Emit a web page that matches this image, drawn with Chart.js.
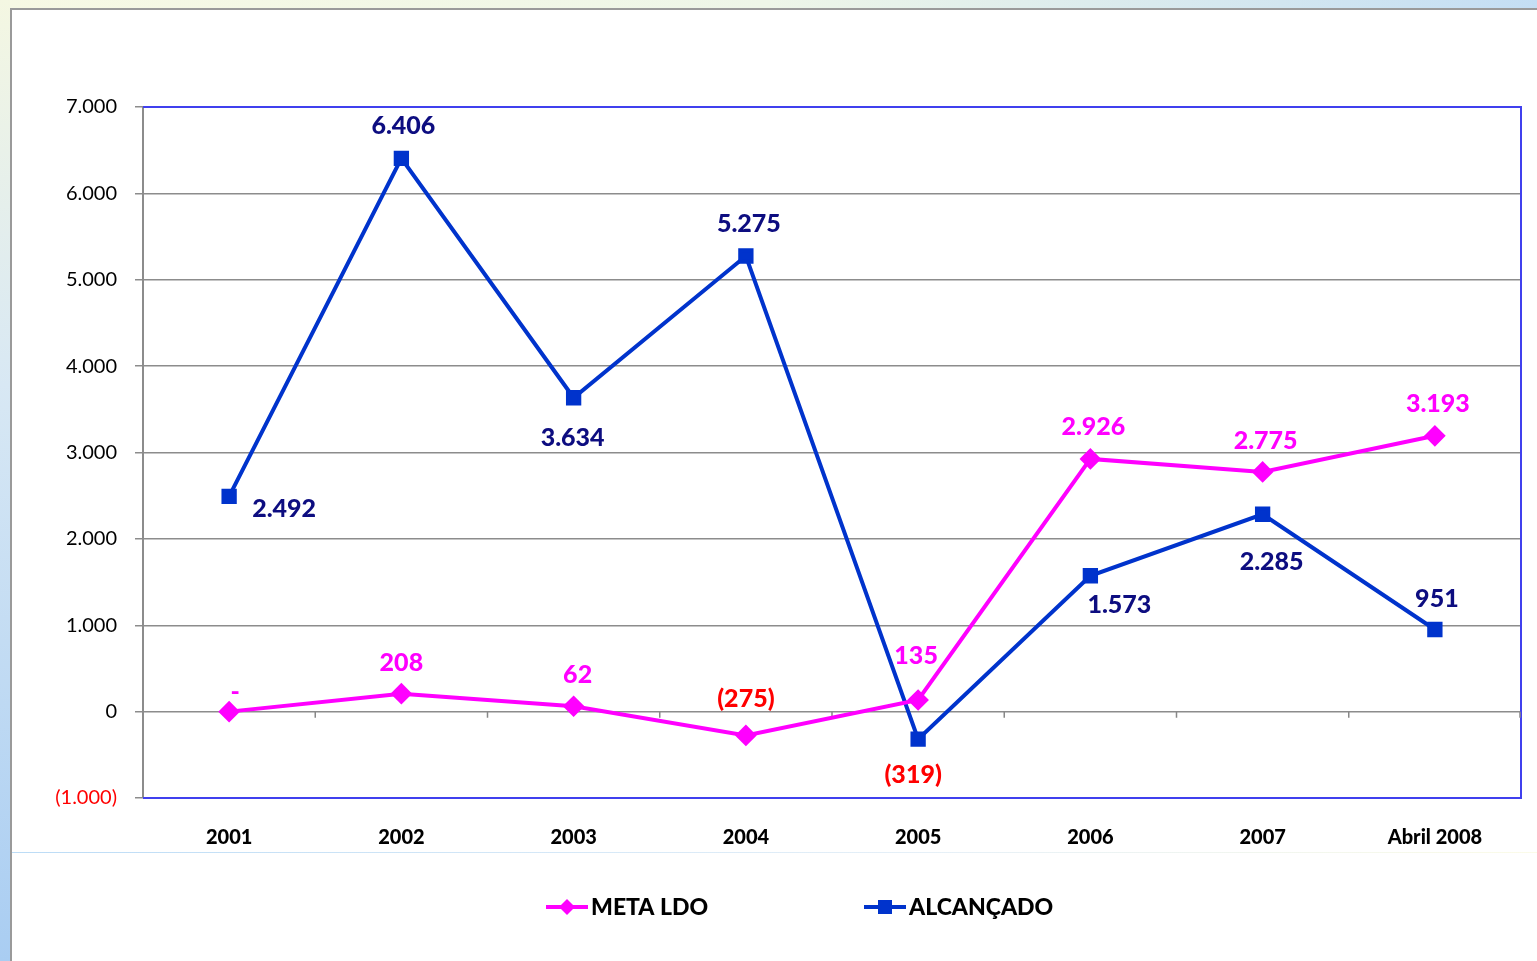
<!DOCTYPE html>
<html>
<head>
<meta charset="utf-8">
<script src="https://cdn.jsdelivr.net/npm/chart.js@4.4.1/dist/chart.umd.min.js"></script>
<style>
  html, body { margin: 0; padding: 0; width: 1537px; height: 961px; overflow: hidden; }
  body { background: linear-gradient(90deg, #f7f9e4 0%, #eef6e8 50%, #c4def4 100%); position: relative; }
  #leftStrip { position: absolute; left: 0; top: 0; width: 10px; height: 961px;
    background: linear-gradient(180deg, #f4f7e2 0%, #d8e8f4 40%, #a9cdf2 100%); }
  #panel { position: absolute; left: 10px; top: 8px; right: 0; bottom: 0; background: #fff;
    border-left: 2px solid #9a9a9a; border-top: 2px solid #9a9a9a; }
  #line852 { position: absolute; left: 12px; right: 0; top: 852px; height: 1px;
    background: linear-gradient(90deg, #bcdcf6 0%, #e6f0f8 60%, #fbfbe8 100%); }
  #wrap { position: absolute; left: 0; top: 0; width: 1537px; height: 961px; }
</style>
</head>
<body>
<div id="leftStrip"></div>
<div id="panel"></div>
<div id="line852"></div>
<div id="wrap"><canvas id="chart" width="1537" height="961"></canvas></div>
<script>
// categorias e séries
const anos = ['2001', '2002', '2003', '2004', '2005', '2006', '2007', 'Abril 2008'];
const metaLdo = [0, 208, 62, -275, 135, 2926, 2775, 3193];
const alcancado = [2492, 6406, 3634, 5275, -319, 1573, 2285, 951];
const yTicks = [-1000, 0, 1000, 2000, 3000, 4000, 5000, 6000, 7000];

// deslocamento dos rótulos em relação ao ponto (px)
const metaLabelOffset = [[6, -20], [0, -31], [4, -31], [0, -36], [-2, -44], [3, -32], [3, -31], [3, -32]];
const alcLabelOffset = [[55, 13], [2, -32], [-1, 40], [3, -32], [-5, 36], [29, 29], [9, 48], [2, -31]];

const FONT = 'Lato, "Open Sans", sans-serif';
const MAGENTA = '#ff00ff';
const BLUE = '#0033cc';
const NAVY = '#0d0d80';

function fmt(v) {
  if (v === 0) return '-';
  const s = Math.abs(v).toLocaleString('de-DE');
  return v < 0 ? '(' + s + ')' : s;
}

const decorPlugin = {
  id: 'decor',
  beforeDatasetsDraw(chart) {
    const { ctx, chartArea: a, scales: { x, y } } = chart;
    ctx.save();
    // borda azul do gráfico (topo, direita, base)
    ctx.strokeStyle = '#4040ee';
    ctx.lineWidth = 2;
    ctx.beginPath();
    ctx.moveTo(a.left, a.top);
    ctx.lineTo(a.right, a.top);
    ctx.lineTo(a.right, a.bottom);
    ctx.lineTo(a.left, a.bottom);
    ctx.stroke();
    // marcas do eixo de categorias na linha do zero
    const y0 = y.getPixelForValue(0);
    ctx.strokeStyle = '#888';
    ctx.lineWidth = 1.5;
    ctx.beginPath();
    for (let i = 1; i <= anos.length; i++) {
      const px = (x.getPixelForValue(i - 1) + x.getPixelForValue(Math.min(i, anos.length - 1))) / 2;
      const bx = i === anos.length ? a.right - 1 : px;
      ctx.moveTo(bx, y0);
      ctx.lineTo(bx, y0 + 6);
    }
    ctx.stroke();
    ctx.restore();
  },
  afterDatasetsDraw(chart) {
    const { ctx } = chart;
    ctx.save();
    ctx.font = '900 25px ' + FONT;
    ctx.textAlign = 'center';
    ctx.textBaseline = 'middle';
    const drawLabels = (dsIndex, values, offsets, color) => {
      const meta = chart.getDatasetMeta(dsIndex);
      meta.data.forEach((pt, i) => {
        ctx.fillStyle = values[i] < 0 ? '#ff0000' : color;
        ctx.fillText(fmt(values[i]), pt.x + offsets[i][0], pt.y + offsets[i][1]);
      });
    };
    drawLabels(0, metaLdo, metaLabelOffset, MAGENTA);
    drawLabels(1, alcancado, alcLabelOffset, NAVY);

    // legenda
    const ly = 907;
    ctx.font = '900 23px ' + FONT;
    ctx.textAlign = 'left';
    ctx.lineWidth = 4;
    // META LDO
    ctx.strokeStyle = MAGENTA;
    ctx.beginPath(); ctx.moveTo(546, ly); ctx.lineTo(588, ly); ctx.stroke();
    ctx.fillStyle = MAGENTA;
    ctx.beginPath(); ctx.moveTo(567, ly - 8); ctx.lineTo(575, ly); ctx.lineTo(567, ly + 8); ctx.lineTo(559, ly); ctx.closePath(); ctx.fill();
    ctx.fillStyle = '#000';
    ctx.fillText('META LDO', 591, ly + 1);
    // ALCANÇADO
    ctx.strokeStyle = BLUE;
    ctx.beginPath(); ctx.moveTo(864, ly); ctx.lineTo(906, ly); ctx.stroke();
    ctx.fillStyle = BLUE;
    ctx.fillRect(878, ly - 7, 14, 14);
    ctx.fillStyle = '#000';
    ctx.fillText('ALCANÇADO', 909, ly + 1);
    ctx.restore();
  }
};

document.addEventListener('DOMContentLoaded', function() {
  new Chart(document.getElementById('chart').getContext('2d'), {
    type: 'line',
    data: {
      labels: anos,
      datasets: [{
        label: 'META LDO',
        data: metaLdo,
        borderColor: MAGENTA,
        backgroundColor: MAGENTA,
        borderWidth: 4,
        pointStyle: 'rectRot',
        pointRadius: 8,
        pointHoverRadius: 8,
        tension: 0
      }, {
        label: 'ALCANÇADO',
        data: alcancado,
        borderColor: BLUE,
        backgroundColor: BLUE,
        borderWidth: 4,
        pointStyle: 'rect',
        pointRadius: 8,
        pointHoverRadius: 8,
        tension: 0
      }]
    },
    options: {
      responsive: false,
      animation: false,
      layout: { padding: { top: 107, right: 16, left: 0, bottom: 0 } },
      plugins: { legend: { display: false }, tooltip: { enabled: false } },
      scales: {
        x: {
          offset: true,
          grid: { display: false, drawTicks: false },
          border: { display: false },
          ticks: {
            color: '#000',
            font: { family: FONT, size: 20, weight: '900' },
            padding: 28,
            maxRotation: 0,
            autoSkip: false
          },
          afterFit(scale) { scale.height = 961 - 798; }
        },
        y: {
          min: -1000,
          max: 7000,
          afterBuildTicks(scale) { scale.ticks = yTicks.map(v => ({ value: v })); },
          afterFit(scale) { scale.width = 143; },
          grid: {
            color: '#8c8c8c',
            lineWidth: 1.5,
            tickLength: 8,
            tickColor: '#8c8c8c'
          },
          border: { display: true, color: '#8c8c8c', width: 2 },
          ticks: {
            color: ctx => (ctx.tick && ctx.tick.value < 0 ? '#ff0000' : '#000'),
            font: { family: FONT, size: 20 },
            padding: 18,
            callback: v => (v < 0 ? '(' + Math.abs(v).toLocaleString('de-DE') + ')' : v === 0 ? '0' : v.toLocaleString('de-DE'))
          }
        }
      }
    },
    plugins: [decorPlugin]
  });
});
</script>
</body>
</html>
